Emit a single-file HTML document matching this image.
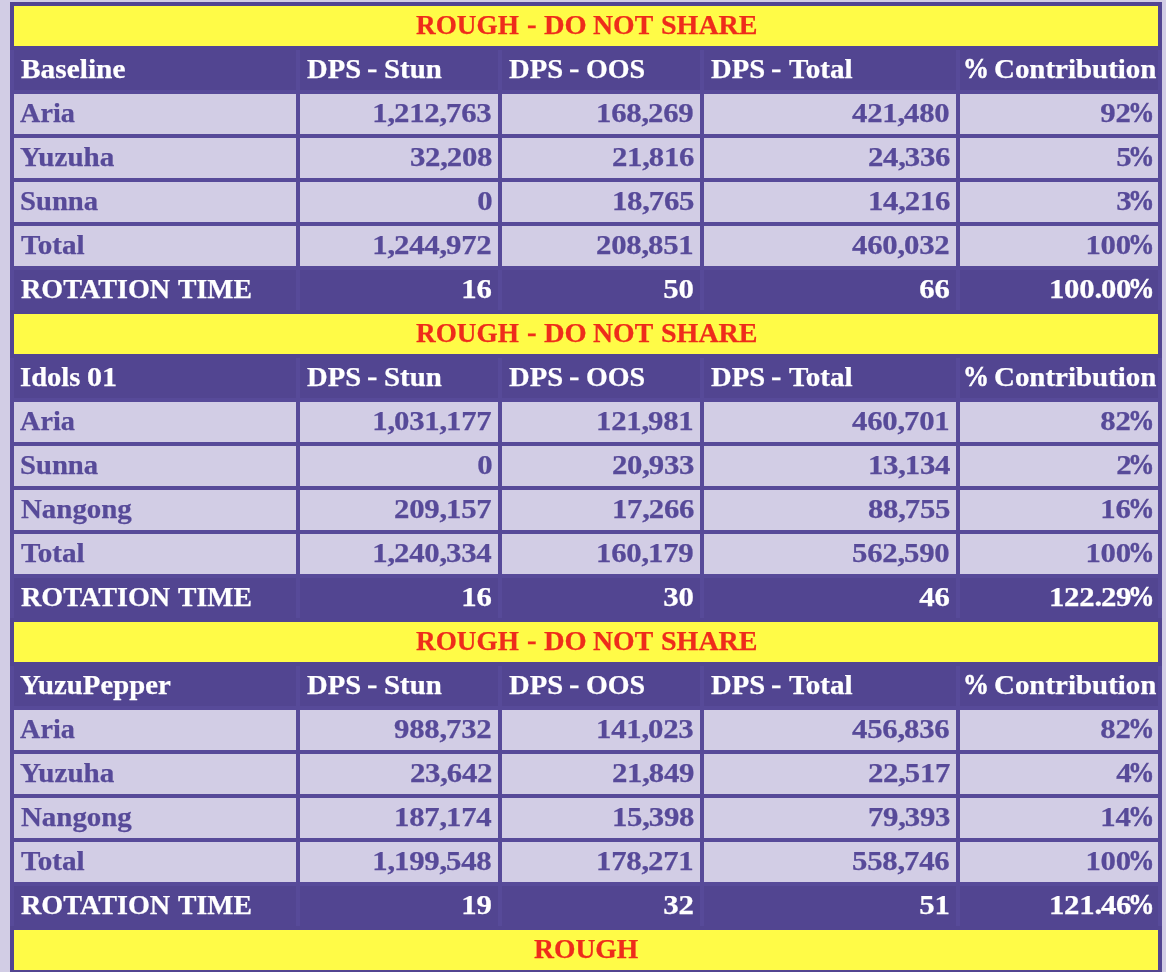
<!DOCTYPE html>
<html lang="en"><head><meta charset="utf-8"><title>DPS Sheet</title>
<style>
html,body{margin:0;padding:0;}
body{width:1166px;height:972px;overflow:hidden;background:#d2cde5;position:relative;font-family:"Liberation Serif",serif;font-weight:bold;font-size:27px;}
#sheet{position:absolute;left:10px;top:2px;width:1152px;height:972px;background:#574a99;}
.c{position:absolute;height:40px;line-height:38px;white-space:pre;overflow:hidden;}
.c span{position:absolute;top:0;display:block;transform-origin:0 0;-webkit-text-stroke:0.25px currentColor;}
.c span.n{transform-origin:100% 0;transform:scaleX(1.14);letter-spacing:-0.2px;}
.c span.p{transform-origin:0 28px;-webkit-text-stroke:0.5px currentColor;}
.c i{font-style:normal;letter-spacing:-1.05px;}
.y{background:#fffb47;color:#ee2c1b;left:14px;width:1144px;box-shadow:0 0 0 4px #524591;}
.h{background:#524591;color:#fff;}
.d{background:#d2cde5;color:#574a99;}
.c0{left:14px;width:282px;}
.c1{left:300px;width:198px;}
.c2{left:502px;width:198px;}
.c3{left:704px;width:252px;}
.c4{left:960px;width:198px;}
</style></head>
<body>
<div id="sheet"></div>
<div class="c y" style="top:6px"><span style="left:401.70px;transform:scaleX(1.0089)">ROUGH </span><span style="left:512.83px;top:-1px;transform:scaleX(1.0714)">- </span><span style="left:529.77px;transform:scaleX(1.0555)">DO </span><span style="left:579.39px;transform:scaleX(1.0278)">NOT </span><span style="left:646.74px;transform:scaleX(1.0378)">SHARE</span></div>
<div class="c h c0" style="top:50px"><span style="left:6.76px;transform:scaleX(1.0881)">Baseline</span></div>
<div class="c h c1" style="top:50px"><span style="left:7.27px;transform:scaleX(1.0599)">DPS </span><span style="left:66.84px;top:-1px;transform:scaleX(1.1571)">- </span><span style="left:84.30px;transform:scaleX(1.0692)">Stun</span></div>
<div class="c h c2" style="top:50px"><span style="left:7.27px;transform:scaleX(1.0599)">DPS </span><span style="left:66.84px;top:-1px;transform:scaleX(1.1571)">- </span><span style="left:83.60px;transform:scaleX(1.0385)">OOS</span></div>
<div class="c h c3" style="top:50px"><span style="left:7.27px;transform:scaleX(1.0599)">DPS </span><span style="left:66.84px;top:-1px;transform:scaleX(1.1571)">- </span><span style="left:84.76px;transform:scaleX(1.0793)">Total</span></div>
<div class="c h c4" style="top:50px"><span class="p" style="left:3.16px;transform:scale(0.9609,1.11)">% </span><span style="left:33.66px;transform:scaleX(1.0718)">Contribution</span></div>
<div class="c d c0" style="top:94px"><span style="left:6.14px;transform:scaleX(1.0454)">Aria</span></div>
<div class="c d c1" style="top:94px"><span class="n" style="right:6.10px">1<i>,</i>212<i>,</i>763</span></div>
<div class="c d c2" style="top:94px"><span class="n" style="right:6.10px">168<i>,</i>269</span></div>
<div class="c d c3" style="top:94px"><span class="n" style="right:6.10px">421<i>,</i>480</span></div>
<div class="c d c4" style="top:94px"><span class="n" style="right:27.00px">92</span><span class="p" style="left:168.11px;transform:scale(0.9793,1.11)">%</span></div>
<div class="c d c0" style="top:138px"><span style="left:6.36px;transform:scaleX(1.0767)">Yuzuha</span></div>
<div class="c d c1" style="top:138px"><span class="n" style="right:6.10px">32<i>,</i>208</span></div>
<div class="c d c2" style="top:138px"><span class="n" style="right:6.10px">21<i>,</i>816</span></div>
<div class="c d c3" style="top:138px"><span class="n" style="right:6.10px">24<i>,</i>336</span></div>
<div class="c d c4" style="top:138px"><span class="n" style="right:27.00px">5</span><span class="p" style="left:168.11px;transform:scale(0.9793,1.11)">%</span></div>
<div class="c d c0" style="top:182px"><span style="left:6.11px;transform:scaleX(1.0620)">Sunna</span></div>
<div class="c d c1" style="top:182px"><span class="n" style="right:6.10px">0</span></div>
<div class="c d c2" style="top:182px"><span class="n" style="right:6.10px">18<i>,</i>765</span></div>
<div class="c d c3" style="top:182px"><span class="n" style="right:6.10px">14<i>,</i>216</span></div>
<div class="c d c4" style="top:182px"><span class="n" style="right:27.00px">3</span><span class="p" style="left:168.11px;transform:scale(0.9793,1.11)">%</span></div>
<div class="c d c0" style="top:226px"><span style="left:6.76px;transform:scaleX(1.0793)">Total</span></div>
<div class="c d c1" style="top:226px"><span class="n" style="right:6.10px">1<i>,</i>244<i>,</i>972</span></div>
<div class="c d c2" style="top:226px"><span class="n" style="right:6.10px">208<i>,</i>851</span></div>
<div class="c d c3" style="top:226px"><span class="n" style="right:6.10px">460<i>,</i>032</span></div>
<div class="c d c4" style="top:226px"><span class="n" style="right:27.00px">100</span><span class="p" style="left:168.11px;transform:scale(0.9793,1.11)">%</span></div>
<div class="c h c0" style="top:270px"><span style="left:6.78px;transform:scaleX(1.0432)">ROTATION </span><span style="left:163.59px;transform:scaleX(1.0257)">TIME</span></div>
<div class="c h c1" style="top:270px"><span class="n" style="right:6.10px">16</span></div>
<div class="c h c2" style="top:270px"><span class="n" style="right:6.10px">50</span></div>
<div class="c h c3" style="top:270px"><span class="n" style="right:6.10px">66</span></div>
<div class="c h c4" style="top:270px"><span class="n" style="right:27.00px">100<i>.</i>00</span><span class="p" style="left:168.11px;transform:scale(0.9793,1.11)">%</span></div>
<div class="c y" style="top:314px"><span style="left:401.70px;transform:scaleX(1.0089)">ROUGH </span><span style="left:512.83px;top:-1px;transform:scaleX(1.0714)">- </span><span style="left:529.77px;transform:scaleX(1.0555)">DO </span><span style="left:579.39px;transform:scaleX(1.0278)">NOT </span><span style="left:646.74px;transform:scaleX(1.0378)">SHARE</span></div>
<div class="c h c0" style="top:358px"><span style="left:5.84px;transform:scaleX(1.0588)">Idols </span><span style="left:73.29px;transform:scaleX(1.1143)">01</span></div>
<div class="c h c1" style="top:358px"><span style="left:7.27px;transform:scaleX(1.0599)">DPS </span><span style="left:66.84px;top:-1px;transform:scaleX(1.1571)">- </span><span style="left:84.30px;transform:scaleX(1.0692)">Stun</span></div>
<div class="c h c2" style="top:358px"><span style="left:7.27px;transform:scaleX(1.0599)">DPS </span><span style="left:66.84px;top:-1px;transform:scaleX(1.1571)">- </span><span style="left:83.60px;transform:scaleX(1.0385)">OOS</span></div>
<div class="c h c3" style="top:358px"><span style="left:7.27px;transform:scaleX(1.0599)">DPS </span><span style="left:66.84px;top:-1px;transform:scaleX(1.1571)">- </span><span style="left:84.76px;transform:scaleX(1.0793)">Total</span></div>
<div class="c h c4" style="top:358px"><span class="p" style="left:3.16px;transform:scale(0.9609,1.11)">% </span><span style="left:33.66px;transform:scaleX(1.0718)">Contribution</span></div>
<div class="c d c0" style="top:402px"><span style="left:6.14px;transform:scaleX(1.0454)">Aria</span></div>
<div class="c d c1" style="top:402px"><span class="n" style="right:6.10px">1<i>,</i>031<i>,</i>177</span></div>
<div class="c d c2" style="top:402px"><span class="n" style="right:6.10px">121<i>,</i>981</span></div>
<div class="c d c3" style="top:402px"><span class="n" style="right:6.10px">460<i>,</i>701</span></div>
<div class="c d c4" style="top:402px"><span class="n" style="right:27.00px">82</span><span class="p" style="left:168.11px;transform:scale(0.9793,1.11)">%</span></div>
<div class="c d c0" style="top:446px"><span style="left:6.11px;transform:scaleX(1.0620)">Sunna</span></div>
<div class="c d c1" style="top:446px"><span class="n" style="right:6.10px">0</span></div>
<div class="c d c2" style="top:446px"><span class="n" style="right:6.10px">20<i>,</i>933</span></div>
<div class="c d c3" style="top:446px"><span class="n" style="right:6.10px">13<i>,</i>134</span></div>
<div class="c d c4" style="top:446px"><span class="n" style="right:27.00px">2</span><span class="p" style="left:168.11px;transform:scale(0.9793,1.11)">%</span></div>
<div class="c d c0" style="top:490px"><span style="left:6.76px;transform:scaleX(1.0701)">Nangong</span></div>
<div class="c d c1" style="top:490px"><span class="n" style="right:6.10px">209<i>,</i>157</span></div>
<div class="c d c2" style="top:490px"><span class="n" style="right:6.10px">17<i>,</i>266</span></div>
<div class="c d c3" style="top:490px"><span class="n" style="right:6.10px">88<i>,</i>755</span></div>
<div class="c d c4" style="top:490px"><span class="n" style="right:27.00px">16</span><span class="p" style="left:168.11px;transform:scale(0.9793,1.11)">%</span></div>
<div class="c d c0" style="top:534px"><span style="left:6.76px;transform:scaleX(1.0793)">Total</span></div>
<div class="c d c1" style="top:534px"><span class="n" style="right:6.10px">1<i>,</i>240<i>,</i>334</span></div>
<div class="c d c2" style="top:534px"><span class="n" style="right:6.10px">160<i>,</i>179</span></div>
<div class="c d c3" style="top:534px"><span class="n" style="right:6.10px">562<i>,</i>590</span></div>
<div class="c d c4" style="top:534px"><span class="n" style="right:27.00px">100</span><span class="p" style="left:168.11px;transform:scale(0.9793,1.11)">%</span></div>
<div class="c h c0" style="top:578px"><span style="left:6.78px;transform:scaleX(1.0432)">ROTATION </span><span style="left:163.59px;transform:scaleX(1.0257)">TIME</span></div>
<div class="c h c1" style="top:578px"><span class="n" style="right:6.10px">16</span></div>
<div class="c h c2" style="top:578px"><span class="n" style="right:6.10px">30</span></div>
<div class="c h c3" style="top:578px"><span class="n" style="right:6.10px">46</span></div>
<div class="c h c4" style="top:578px"><span class="n" style="right:27.00px">122<i>.</i>29</span><span class="p" style="left:168.11px;transform:scale(0.9793,1.11)">%</span></div>
<div class="c y" style="top:622px"><span style="left:401.70px;transform:scaleX(1.0089)">ROUGH </span><span style="left:512.83px;top:-1px;transform:scaleX(1.0714)">- </span><span style="left:529.77px;transform:scaleX(1.0555)">DO </span><span style="left:579.39px;transform:scaleX(1.0278)">NOT </span><span style="left:646.74px;transform:scaleX(1.0378)">SHARE</span></div>
<div class="c h c0" style="top:666px"><span style="left:6.37px;transform:scaleX(1.0648)">YuzuPepper</span></div>
<div class="c h c1" style="top:666px"><span style="left:7.27px;transform:scaleX(1.0599)">DPS </span><span style="left:66.84px;top:-1px;transform:scaleX(1.1571)">- </span><span style="left:84.30px;transform:scaleX(1.0692)">Stun</span></div>
<div class="c h c2" style="top:666px"><span style="left:7.27px;transform:scaleX(1.0599)">DPS </span><span style="left:66.84px;top:-1px;transform:scaleX(1.1571)">- </span><span style="left:83.60px;transform:scaleX(1.0385)">OOS</span></div>
<div class="c h c3" style="top:666px"><span style="left:7.27px;transform:scaleX(1.0599)">DPS </span><span style="left:66.84px;top:-1px;transform:scaleX(1.1571)">- </span><span style="left:84.76px;transform:scaleX(1.0793)">Total</span></div>
<div class="c h c4" style="top:666px"><span class="p" style="left:3.16px;transform:scale(0.9609,1.11)">% </span><span style="left:33.66px;transform:scaleX(1.0718)">Contribution</span></div>
<div class="c d c0" style="top:710px"><span style="left:6.14px;transform:scaleX(1.0454)">Aria</span></div>
<div class="c d c1" style="top:710px"><span class="n" style="right:6.10px">988<i>,</i>732</span></div>
<div class="c d c2" style="top:710px"><span class="n" style="right:6.10px">141<i>,</i>023</span></div>
<div class="c d c3" style="top:710px"><span class="n" style="right:6.10px">456<i>,</i>836</span></div>
<div class="c d c4" style="top:710px"><span class="n" style="right:27.00px">82</span><span class="p" style="left:168.11px;transform:scale(0.9793,1.11)">%</span></div>
<div class="c d c0" style="top:754px"><span style="left:6.36px;transform:scaleX(1.0767)">Yuzuha</span></div>
<div class="c d c1" style="top:754px"><span class="n" style="right:6.10px">23<i>,</i>642</span></div>
<div class="c d c2" style="top:754px"><span class="n" style="right:6.10px">21<i>,</i>849</span></div>
<div class="c d c3" style="top:754px"><span class="n" style="right:6.10px">22<i>,</i>517</span></div>
<div class="c d c4" style="top:754px"><span class="n" style="right:27.00px">4</span><span class="p" style="left:168.11px;transform:scale(0.9793,1.11)">%</span></div>
<div class="c d c0" style="top:798px"><span style="left:6.76px;transform:scaleX(1.0701)">Nangong</span></div>
<div class="c d c1" style="top:798px"><span class="n" style="right:6.10px">187<i>,</i>174</span></div>
<div class="c d c2" style="top:798px"><span class="n" style="right:6.10px">15<i>,</i>398</span></div>
<div class="c d c3" style="top:798px"><span class="n" style="right:6.10px">79<i>,</i>393</span></div>
<div class="c d c4" style="top:798px"><span class="n" style="right:27.00px">14</span><span class="p" style="left:168.11px;transform:scale(0.9793,1.11)">%</span></div>
<div class="c d c0" style="top:842px"><span style="left:6.76px;transform:scaleX(1.0793)">Total</span></div>
<div class="c d c1" style="top:842px"><span class="n" style="right:6.10px">1<i>,</i>199<i>,</i>548</span></div>
<div class="c d c2" style="top:842px"><span class="n" style="right:6.10px">178<i>,</i>271</span></div>
<div class="c d c3" style="top:842px"><span class="n" style="right:6.10px">558<i>,</i>746</span></div>
<div class="c d c4" style="top:842px"><span class="n" style="right:27.00px">100</span><span class="p" style="left:168.11px;transform:scale(0.9793,1.11)">%</span></div>
<div class="c h c0" style="top:886px"><span style="left:6.78px;transform:scaleX(1.0432)">ROTATION </span><span style="left:163.59px;transform:scaleX(1.0257)">TIME</span></div>
<div class="c h c1" style="top:886px"><span class="n" style="right:6.10px">19</span></div>
<div class="c h c2" style="top:886px"><span class="n" style="right:6.10px">32</span></div>
<div class="c h c3" style="top:886px"><span class="n" style="right:6.10px">51</span></div>
<div class="c h c4" style="top:886px"><span class="n" style="right:27.00px">121<i>.</i>46</span><span class="p" style="left:168.11px;transform:scale(0.9793,1.11)">%</span></div>
<div class="c y" style="top:930px"><span style="left:519.99px;transform:scaleX(1.0228)">ROUGH</span></div>
</body></html>
